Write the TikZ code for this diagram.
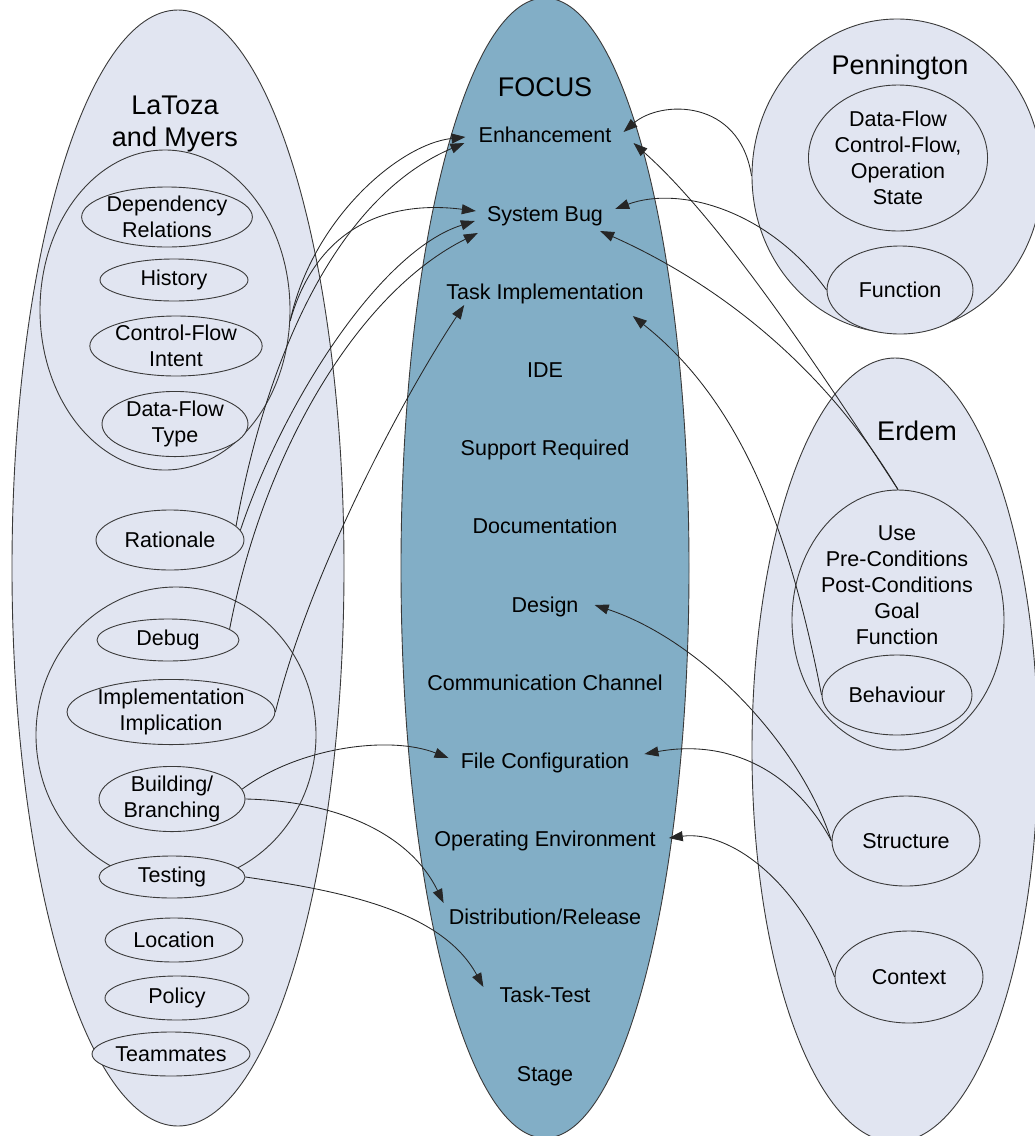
\documentclass[tikz,border=0pt]{standalone}
\usepackage{fontspec}
\setmainfont{Liberation Sans}
\usetikzlibrary{shapes.geometric,arrows.meta}
\definecolor{lav}{HTML}{E1E5F1}
\definecolor{focusblue}{HTML}{82AEC6}
\definecolor{edgegray}{HTML}{3A3A3A}
\tikzset{
  ell/.style={ellipse, draw=edgegray, line width=0.9pt, fill=lav, inner sep=0pt, align=center, font=\fontsize{21.5}{26}\selectfont},
  lbl/.style={inner sep=0pt, align=center, font=\fontsize{21.5}{26}\selectfont, text height=15.5pt, text depth=0pt},
  mtext/.style={inner sep=0pt, align=center, font=\fontsize{21.5}{26}\selectfont},
  ttl/.style={inner sep=0pt, align=center, font=\fontsize{27}{32}\selectfont},
  conn/.style={draw=black!85, line width=0.85pt, -{Triangle[length=14pt,width=10pt]}},
}
\begin{document}
\begin{tikzpicture}[x=1pt,y=-1pt]
\useasboundingbox (0,0) rectangle (1035,1136);
\clip (0,0) rectangle (1035,1136);

% containers
\node[ell, minimum width=332, minimum height=1116] (lm) at (178,568) {};
\node[ell, fill=focusblue, minimum width=288, minimum height=1140] (focus) at (545,568) {};
\node[ell, minimum width=290, minimum height=314] (pen) at (897,176) {};
\node[ell, minimum width=286, minimum height=784] (erd) at (895,750) {};

% titles
\node[ttl] (lmt) at (175,124) {LaToza\\and Myers};
\node[ttl] (fct) at (545,87) {FOCUS};
\node[ttl] (pent) at (900,68) {Pennington};
\node[ttl] (erdt) at (917,431) {Erdem};

% left groups
\node[ell, minimum width=250, minimum height=320] (tg) at (165,310) {};
\node[ell, minimum width=280, minimum height=296] (bg) at (176,735) {};

\node[ell, minimum width=158, minimum height=60] (dep) at (167,217) {Dependency\\Relations};
\node[ell, minimum width=148, minimum height=42] (hist) at (174,280) {History};
\node[ell, minimum width=168, minimum height=60] (cfi) at (176,346) {Control-Flow\\Intent};
\node[ell, minimum width=146, minimum height=64] (dft) at (175,424) {Data-Flow\\Type};
\node[ell, minimum width=148, minimum height=60] (rat) at (170,540) {Rationale};
\node[ell, minimum width=142, minimum height=42] (dbg) at (168,640) {Debug};
\node[ell, minimum width=190, minimum height=64] (imp) at (171,712) {Implementation\\Implication};
\node[ell, minimum width=146, minimum height=64] (bld) at (172,799) {Building/\\Branching};
\node[ell, minimum width=146, minimum height=42] (tst) at (172,877) {Testing};
\node[ell, minimum width=138, minimum height=44] (loc) at (174,940) {Location};
\node[ell, minimum width=144, minimum height=44] (pol) at (177,998) {Policy};
\node[ell, minimum width=158, minimum height=44] (team) at (171,1054) {Teammates};

% right items
\node[ell, minimum width=166, minimum height=146] (dfl) at (898,158) {Data-Flow\\Control-Flow,\\Operation\\State};
\node[ell, minimum width=146, minimum height=88] (fun) at (900,290) {Function};
\node[ell, minimum width=212, minimum height=260] (use) at (898,620) {};
\node[mtext] (uset) at (897,585) {Use\\Pre-Conditions\\Post-Conditions\\Goal\\Function};
\node[ell, minimum width=150, minimum height=80] (beh) at (897,695) {Behaviour};
\node[ell, minimum width=148, minimum height=90] (str) at (906,841) {Structure};
\node[ell, minimum width=148, minimum height=92] (ctx) at (909,977) {Context};

% focus items
\node[lbl] (enh) at (545,135) {Enhancement};
\node[lbl] (sbug) at (545,214) {System Bug};
\node[lbl] (task) at (545,292) {Task Implementation};
\node[lbl] (ide) at (545,370) {IDE};
\node[lbl] (supp) at (545,448) {Support Required};
\node[lbl] (doc) at (545,526) {Documentation};
\node[lbl] (des) at (545,605) {Design};
\node[lbl] (comm) at (545,683) {Communication Channel};
\node[lbl] (fcfg) at (545,761) {File Configuration};
\node[lbl] (openv) at (545,839) {Operating Environment};
\node[lbl] (dist) at (545,917) {Distribution/Release};
\node[lbl] (ttest) at (545,995) {Task-Test};
\node[lbl] (stage) at (545,1074) {Stage};

% left connectors
\draw[conn] (tg.-5) .. controls +(22,-102) and +(-66,7) .. ([shift={(-13,2)}]enh.west);
\draw[conn] (tg.-5) .. controls +(27,-95) and +(-87,-11) .. ([shift={(-11,-3)}]sbug.west);
\draw[conn] (rat.12) .. controls +(28,-155) and +(-134,57) .. ([shift={(-14,8)}]enh.west);
\draw[conn] (rat.8) .. controls +(43,-128) and +(-95,30) .. ([shift={(-12,7)}]sbug.west);
\draw[conn] (dbg.10) .. controls +(35,-182) and +(-117,58) .. ([shift={(-9,19)}]sbug.west);
\draw[conn] (imp.east) .. controls +(34,-138) and +(-63,95) .. ([shift={(18,13)}]task.west);
\draw[conn] (bld.8) .. controls +(57,-42) and +(-59,-23) .. ([shift={(-12,-3)}]fcfg.west);
\draw[conn] (bld.east) .. controls +(94,2) and +(-33,-68) .. ([shift={(-5,-14)}]dist.west);
\draw[conn] (tst.east) .. controls +(95,14) and +(-42,-77) .. ([shift={(-16,-8)}]ttest.west);

% right connectors
\draw[conn] (pen.west) .. controls +(-12,-78) and +(37,-32) .. ([shift={(12,-3)}]enh.east);
\draw[conn] (fun.west) .. controls +(-57,-79) and +(65,-24) .. ([shift={(12,-5)}]sbug.east);
\draw[conn] (use.north) .. controls +(-78,-120) and +(87,77) .. ([shift={(22,8)}]enh.east);
\draw[conn] (use.north) .. controls +(-78,-130) and +(110,49) .. ([shift={(-3,17)}]sbug.east);
\draw[conn] (beh.west) .. controls +(-33,-170) and +(106,84) .. ([shift={(-11,24)}]task.east);
\draw[conn] (str.west) .. controls +(-32,-98) and +(106,35) .. ([shift={(16,0)}]des.east);
\draw[conn] (str.west) .. controls +(-42,-78) and +(76,-14) .. ([shift={(15,-7)}]fcfg.east);
\draw[conn] (ctx.west) .. controls +(-35,-96) and +(61,-8) .. ([shift={(13,-1)}]openv.east);
\end{tikzpicture}
\end{document}
